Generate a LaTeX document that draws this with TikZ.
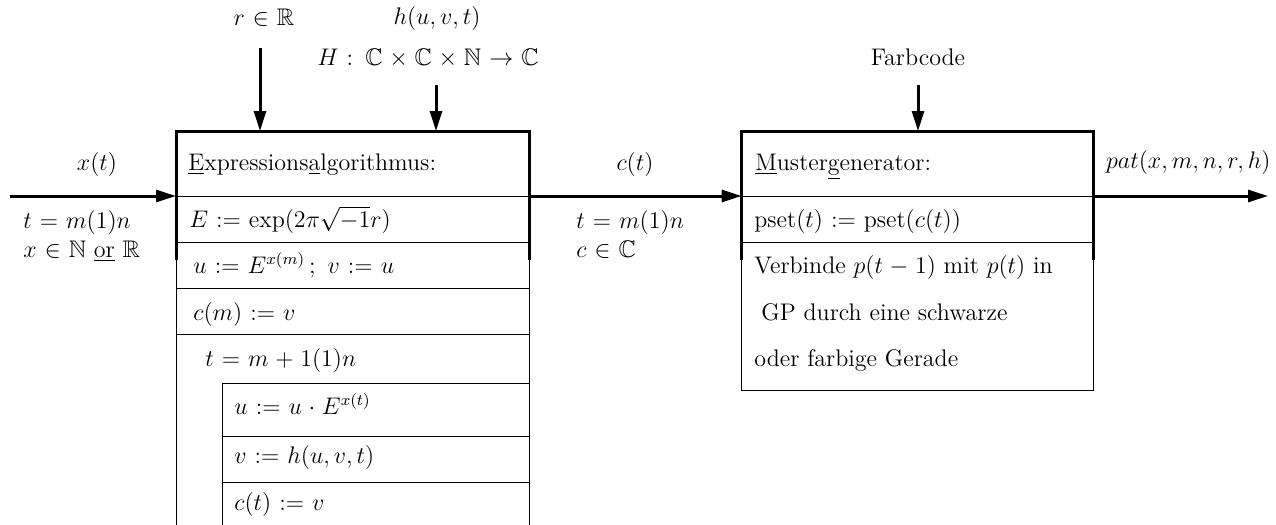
\documentclass[tikz,border=0pt]{standalone}
\usepackage{amssymb}
\usetikzlibrary{arrows.meta}
\newcommand{\widemath}{\thickmuskip=6mu plus 5mu\medmuskip=5mu plus 2mu minus 4mu\relax}
\begin{document}
\begin{tikzpicture}[x=0.5pt,y=-0.5pt,
  txt/.style={inner sep=0pt, font={\fontsize{12}{14.5}\selectfont\widemath}},
  thinline/.style={line width=0.5pt},
  heavy/.style={line width=1.5pt},
  arr/.style={line width=1.5pt, -{Triangle[length=10pt,width=6pt]}}]
\useasboundingbox (0,0) rectangle (1276,525);

% ---------- left box (Expressionsalgorithmus) ----------
\draw[heavy] (176,260) -- (176,131) -- (529,131) -- (529,260);
\draw[thinline] (176,260) -- (176,525);
\draw[thinline] (529,260) -- (529,525);
\foreach \yy in {196,242,288,334} \draw[thinline] (176,\yy) -- (529,\yy);
\draw[thinline] (222.7,525) -- (222.7,383) -- (529,383);
\foreach \yy in {436,482} \draw[thinline] (222.7,\yy) -- (529,\yy);

% ---------- right box (Mustergenerator) ----------
\draw[heavy] (741.7,260) -- (741.7,131) -- (1093,131) -- (1093,260);
\draw[thinline] (741.7,260) -- (741.7,390) -- (1093,390) -- (1093,260);
\foreach \yy in {196,242} \draw[thinline] (741.7,\yy) -- (1093,\yy);

% ---------- connector end points ----------
\coordinate (xin) at (10,196);
\coordinate (lbW) at (176,196);
\coordinate (lbE) at (529,196);
\coordinate (rbW) at (741.7,196);
\coordinate (rbE) at (1093,196);
\coordinate (pout) at (1268,196);
\coordinate (rsrc) at (260,48);
\coordinate (rdst) at (260,131);
\coordinate (hsrc) at (436,85);
\coordinate (hdst) at (436,131);
\coordinate (fsrc) at (918,85);
\coordinate (fdst) at (918,131);

\draw[arr] (xin) -- (lbW);
\draw[arr] (lbE) -- (rbW);
\draw[arr] (rbE) -- (pout);
\draw[arr] (rsrc) -- (rdst);
\draw[arr] (hsrc) -- (hdst);
\draw[arr] (fsrc) -- (fdst);

% ---------- labels outside ----------
\node[txt,anchor=base] (xt) at (97,170) {$x(t)$};
\node[txt,anchor=base west] (lt1) at (23,228) {$t=m(1)n$};
\node[txt,anchor=base west] (lt2) at (23,257) {$x\in\mathbb{N}$ \underline{or} $\mathbb{R}$};
\node[txt,anchor=base] (rlab) at (264,25) {$r\in\mathbb{R}$};
\node[txt,anchor=base] (hlab) at (437,24) {$h(u,v,t)$};
\node[txt,anchor=base] (Hlab) at (428,65) {$H:\,\mathbb{C}\times\mathbb{C}\times\mathbb{N}\to\mathbb{C}$};
\node[txt,anchor=base] (flab) at (918,65) {Farbcode};
\node[txt,anchor=base] (ctlab) at (635,170) {$c(t)$};
\node[txt,anchor=base west] (mt1) at (576,228) {$t=m(1)n$};
\node[txt,anchor=base west] (mt2) at (576,257) {$c\in\mathbb{C}$};
\node[txt,anchor=base east] (patlab) at (1271,168) {$pat(x,m,n,r,h)$};

% ---------- left box contents ----------
\node[txt,anchor=base west] (ea) at (188,170) {\underline{E}xpressions\underline{a}lgorithmus:};
\node[txt,anchor=base west] (s1) at (189,227) {$E:=\exp(2\pi\sqrt{-1}r)$};
\node[txt,anchor=base west] (s2) at (193,273) {$u:=E^{x(m)}\,;\;v:=u$};
\node[txt,anchor=base west] (s3) at (193,320) {$c(m):=v$};
\node[txt,anchor=base west] (s4) at (205,366) {$t=m+1(1)n$};
\node[txt,anchor=base west] (s5) at (234,414) {$u:=u\cdot E^{x(t)}$};
\node[txt,anchor=base west] (s6) at (234,463) {$v:=h(u,v,t)$};
\node[txt,anchor=base west] (s7) at (234,510) {$c(t):=v$};

% ---------- right box contents ----------
\node[txt,anchor=base west] (mg) at (755,170) {\underline{M}uster\underline{g}enerator:};
\node[txt,anchor=base west] (p1) at (754,227) {$\mathrm{pset}(t):=\mathrm{pset}(c(t))$};
\node[txt,anchor=base west] (p2) at (754,273) {Verbinde $p(t-1)$ mit $p(t)$ in};
\node[txt,anchor=base west] (p3) at (761,320) {GP durch eine schwarze};
\node[txt,anchor=base west] (p4) at (754,366) {oder farbige Gerade};
\end{tikzpicture}
\end{document}
